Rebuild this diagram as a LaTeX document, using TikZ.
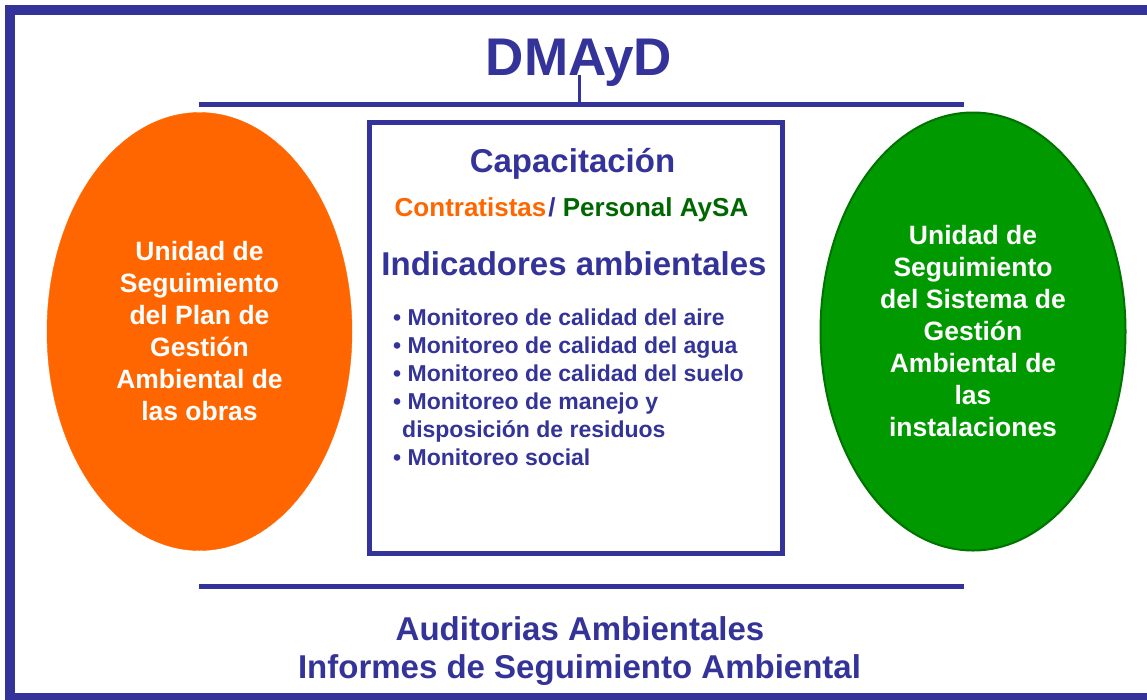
\documentclass[tikz,border=0pt]{standalone}
\usepackage{fontspec}
\setmainfont{Liberation Sans}
\usepackage{xcolor}
\usetikzlibrary{shapes.geometric}
\definecolor{dmblue}{RGB}{51,51,153}
\definecolor{dmorange}{RGB}{255,102,0}
\definecolor{dmgreen}{RGB}{0,153,0}
\definecolor{dmdarkgreen}{RGB}{0,102,0}
\tikzset{
	unit/.style={
		ellipse,
		align=center,
		text=white,
		inner sep=0pt,
		minimum width=305pt,
		minimum height=438pt,
		font=\fontsize{26.5}{32}\selectfont\bfseries
	},
	heading/.style={
		text=dmblue,
		anchor=base,
		inner sep=0pt,
		font=\fontsize{33}{40}\selectfont\bfseries
	},
	item/.style={
		text=dmblue,
		anchor=base west,
		inner sep=0pt,
		font=\fontsize{23}{28}\selectfont\bfseries
	},
	hline/.style={
		draw=dmblue,
		line width=5pt
	}
}

\begin{document}
\begin{tikzpicture}[x=1pt,y=-1pt]
		\useasboundingbox (0,0) rectangle (1147,699);
		\draw[dmblue, line width=10pt] (10,10) rectangle (1165,698);
		
		\draw node[text=dmblue, anchor=base, inner sep=0pt, font=\fontsize{53}{60}\selectfont\bfseries] (Title) at (579,75) {DMAyD};
		\coordinate (TopL) at (199,104);
		\coordinate (TopR) at (964,104);
		\coordinate (BotL) at (199,586);
		\coordinate (BotR) at (964,586);
		
		\draw node[unit, fill=dmorange, draw=dmorange] (PlanObras) at (199.5,331.5) {Unidad de\\ Seguimiento\\ del Plan de\\ Gesti\'on\\ Ambiental de\\ las obras};
		\draw node[unit, fill=dmgreen, draw=dmgreen!75!black, line width=2pt] (SistGestion) at (973,331.5) {Unidad de\\ Seguimiento\\ del Sistema de\\ Gesti\'on\\ Ambiental de\\ las\\ instalaciones};
		
		\draw node[draw=dmblue, line width=5pt, inner sep=0pt, minimum width=413pt, minimum height=431pt] (Box) at (576,338) {};
		\draw node[heading] (Capacitacion) at (572.5,172) {Capacitaci\'on};
		\draw node[heading, font=\fontsize{26}{30}\selectfont\bfseries] (Personal) at (571.5,216) {\textcolor{dmorange}{Contratistas}\kern2pt/ \textcolor{dmdarkgreen}{Personal AySA}};
		\draw node[heading] (Indicadores) at (574,275) {Indicadores ambientales};
		\draw node[item] (Aire) at (393,325) {\textbullet\ Monitoreo de calidad del aire};
		\draw node[item] (Agua) at (393,353) {\textbullet\ Monitoreo de calidad del agua};
		\draw node[item] (Suelo) at (393,381) {\textbullet\ Monitoreo de calidad del suelo};
		\draw node[item] (Manejo) at (393,409) {\textbullet\ Monitoreo de manejo y};
		\draw node[item] (Residuos) at (402,437) {disposici\'on de residuos};
		\draw node[item] (Social) at (393,465) {\textbullet\ Monitoreo social};
		
		\draw node[heading] (Auditorias) at (580,640) {Auditorias Ambientales};
		\draw node[heading] (Informes) at (579.5,678) {Informes de Seguimiento Ambiental};
		
		\draw [hline] (TopL) -- (TopR);
		\draw [hline] (BotL) -- (BotR);
		\draw [dmblue, line width=3pt] (Title.base) -- (Title.base |- TopL);
	\end{tikzpicture}
\end{document}
